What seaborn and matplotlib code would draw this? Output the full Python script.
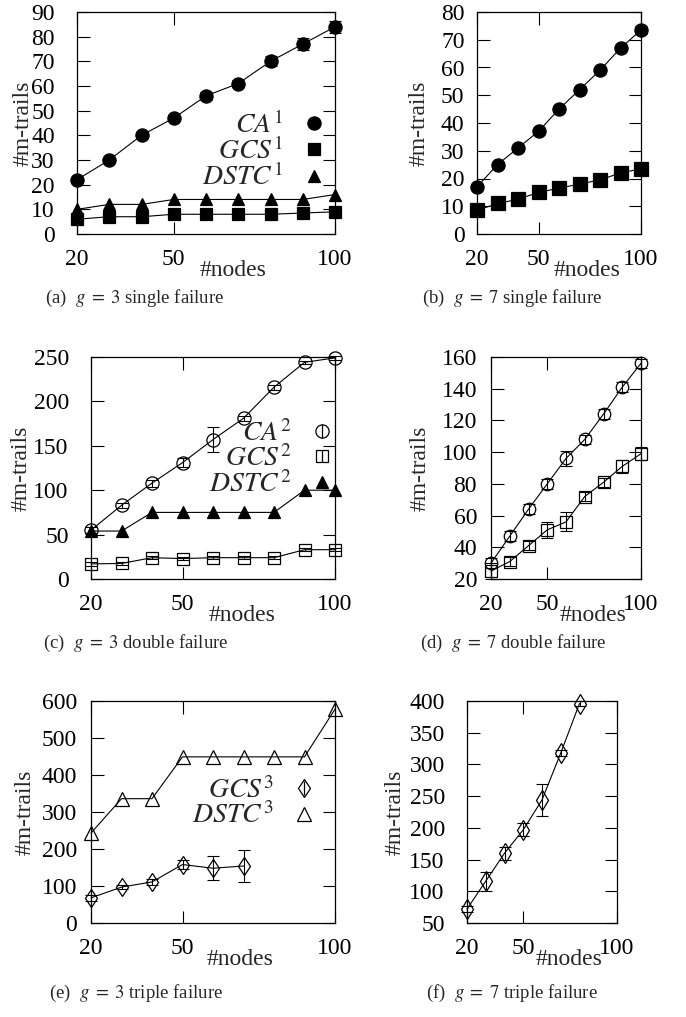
import matplotlib
matplotlib.use("Agg")
import matplotlib.pyplot as plt
import seaborn as sns
from matplotlib.lines import Line2D

sns.set_style("ticks")
plt.rcParams['font.family'] = ['Liberation Serif', 'DejaVu Serif']
plt.rcParams['mathtext.fontset'] = 'stix'
plt.rcParams['font.size'] = 17

# ---------------- data ----------------
nodes = [20, 30, 40, 50, 60, 70, 80, 90, 100]

a_ca1 = [22, 30, 40, 47, 56, 61, 70, 77, 84]
a_ca1_err = [1, 1, 1, 1, 1.5, 1.5, 2, 2.5, 2.5]
a_gcs1 = [6, 7, 7, 8, 8, 8, 8, 8.5, 9]
a_dstc1 = [10, 12, 12, 14, 14, 14, 14, 14, 16]

b_ca1 = [17, 25, 31, 37, 45, 52, 59, 67, 73.5]
b_ca1_err = [1, 1, 1, 1, 1, 1, 1, 1, 1.5]
b_gcs1 = [8.5, 11, 12.5, 15, 16.5, 18, 19.5, 22, 23.5]
b_gcs1_err = [1, 1, 1, 1, 1, 1, 1, 1, 1]

c_ca2 = [55, 83, 108, 131, 157, 181, 216, 244, 249]
c_ca2_err = [3, 3, 4, 5, 14, 3, 3, 2, 2]
c_gcs2 = [17, 17.5, 24, 23, 24, 24, 24, 33, 33]
c_gcs2_err = [2, 2, 2, 2, 2, 2, 2, 2, 2]
c_dstc2 = [54, 54, 75, 75, 75, 75, 75, 100, 100]

d_ca2 = [30, 47, 64, 80, 96, 108, 124, 141, 156]
d_ca2_err = [3, 3, 3, 3, 5, 3, 3, 3, 3]
d_gcs2 = [25, 31, 41, 51, 56, 72, 81, 91, 99]
d_gcs2_err = [5, 3, 3, 5, 6, 3, 3, 4, 4]

e_nodes_gcs = [20, 30, 40, 50, 60, 70]
e_gcs3 = [68, 97, 111, 158, 148, 154]
e_gcs3_err = [8, 6, 8, 12, 32, 44]
e_dstc3 = [243, 336, 336, 449, 449, 449, 449, 449, 578]

f_nodes = [20, 30, 40, 50, 60, 70, 80]
f_gcs3 = [72, 116, 160, 197, 244, 318, 396]
f_gcs3_err = [5, 15, 10, 10, 25, 4, 4]

x_ticks = [20, 50, 100]
captions = ["(a)  $g\\;=\\;3$ single failure", "(b)  $g\\;=\\;7$ single failure",
            "(c)  $g\\;=\\;3$ double failure", "(d)  $g\\;=\\;7$ double failure",
            "(e)  $g\\;=\\;3$ triple failure", "(f)  $g\\;=\\;7$ triple failure"]

W, H = 686, 1017
fig = plt.figure(figsize=(W / 100, H / 100), dpi=100)


def make_ax(x0, y0, x1, y1):
    return fig.add_axes([x0 / W, 1 - y1 / H, (x1 - x0) / W, (y1 - y0) / H])


def style_ax(ax, ylim, ystep, ypad, ylab_x, xlab_x):
    ax.set_xlim(20, 100)
    ax.set_ylim(*ylim)
    ax.set_xticks(x_ticks)
    ax.set_yticks(list(range(ylim[0], ylim[1] + 1, ystep)))
    ax.tick_params(direction='in', length=9, width=0.8, top=True, right=True,
                   colors='black', labelsize=17)
    ax.tick_params(axis='y', pad=ypad)
    ax.tick_params(axis='x', pad=11)
    for s in ax.spines.values():
        s.set_linewidth(0.9)
        s.set_color('black')
    ax.set_ylabel('#m-trails', fontsize=17)
    ax.yaxis.set_label_coords(ylab_x, 0.5)
    ax.yaxis.label.set_va('center')
    ax.set_xlabel('#nodes', fontsize=17)
    ax.xaxis.set_label_coords(xlab_x, -0.165)
    ax.xaxis.label.set_va('center')


def series(ax, x, y, marker, ms, filled, err=None):
    sns.lineplot(x=x, y=y, ax=ax, color='black', linewidth=0.8, marker=marker,
                 markersize=ms, markeredgecolor='black', markeredgewidth=0.9,
                 markerfacecolor='black' if filled else 'none', clip_on=False,
                 zorder=3)
    if err is not None:
        ax.errorbar(x, y, yerr=err, fmt='none', ecolor='black', elinewidth=0.8,
                    capsize=4.5, capthick=0.8, clip_on=False, zorder=2)


def handle(marker, ms, filled, bar):
    m = Line2D([], [], marker=marker, markersize=ms, ls='none', color='black',
               markerfacecolor='black' if filled else 'none', markeredgecolor='black',
               markeredgewidth=0.9)
    if bar:
        return (m, Line2D([], [], marker='|', markersize=ms, ls='none', color='black',
                          markeredgewidth=0.9))
    return m


def legend(ax, handles, labels, anchor):
    ax.legend(handles, labels, loc='upper right', bbox_to_anchor=anchor,
              frameon=False, markerfirst=False, handlelength=1.0, handletextpad=0.6,
              labelspacing=-0.05, borderpad=0, fontsize=20)


# (a)
ax = make_ax(77, 12, 335, 234)
series(ax, nodes, a_ca1, 'o', 9.5, True, a_ca1_err)
series(ax, nodes, a_gcs1, 's', 8.5, True)
series(ax, nodes, a_dstc1, '^', 8, True)
style_ax(ax, (0, 90), 10, 16, -0.21, 0.605)
legend(ax, [handle('o', 9.5, True, False), handle('s', 8.5, True, False), handle('^', 8, True, False)],
       ['$CA^1$', '$GCS^1$', '$DSTC^1$'], (1.025, 0.615))

# (b)
ax = make_ax(477, 12, 641, 234)
series(ax, nodes, b_ca1, 'o', 9.5, True, b_ca1_err)
series(ax, nodes, b_gcs1, 's', 9.5, True, b_gcs1_err)
style_ax(ax, (0, 80), 10, 9, -0.35, 0.67)

# (c)
ax = make_ax(91, 357, 335, 579)
series(ax, nodes, c_ca2, 'o', 9.5, False, c_ca2_err)
series(ax, nodes, c_gcs2, 's', 8.5, False, c_gcs2_err)
series(ax, nodes, c_dstc2, '^', 8, True)
style_ax(ax, (0, 250), 50, 16, -0.285, 0.62)
legend(ax, [handle('o', 9.5, False, True), handle('s', 8.5, False, True), handle('^', 8, True, False)],
       ['$CA^2$', '$GCS^2$', '$DSTC^2$'], (1.06, 0.78))

# (d)
ax = make_ax(491, 357, 641, 579)
series(ax, nodes, d_ca2, 'o', 9, False, d_ca2_err)
series(ax, nodes, d_gcs2, 's', 9, False, d_gcs2_err)
style_ax(ax, (20, 160), 20, 10, -0.47, 0.68)

# (e)
ax = make_ax(91, 701, 335, 923)
series(ax, e_nodes_gcs, e_gcs3, 'd', 9.5, False, e_gcs3_err)
series(ax, nodes, e_dstc3, '^', 9.5, False)
style_ax(ax, (0, 600), 100, 10, -0.27, 0.61)
legend(ax, [handle('d', 9.5, False, True), handle('^', 9.5, False, False)],
       ['$GCS^3$', '$DSTC^3$'], (0.987, 0.72))

# (f)
ax = make_ax(467, 701, 617, 923)
series(ax, f_nodes, f_gcs3, 'd', 10, False, f_gcs3_err)
style_ax(ax, (50, 400), 50, 16, -0.48, 0.68)

# captions
cap_pos = [(135, 298), (512, 298), (136, 643), (513, 643), (136, 993), (512, 993)]
for (cx, cy), txt in zip(cap_pos, captions):
    fig.text(cx / W, 1 - cy / H, txt, ha='center', va='center', fontsize=13.5)

fig.savefig('out.png', dpi=100)
